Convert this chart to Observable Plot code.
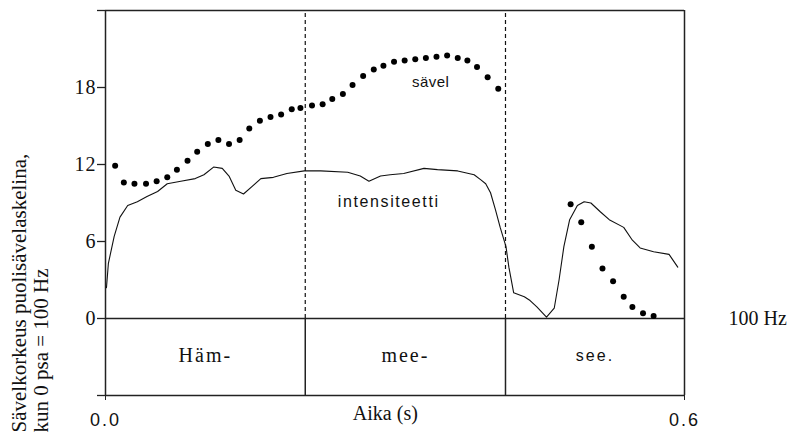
<!DOCTYPE html>
<html><head><meta charset="utf-8">
<script src="https://cdn.jsdelivr.net/npm/d3@7"></script>
<script src="https://cdn.jsdelivr.net/npm/@observablehq/plot@0.6"></script>
<style>
body{margin:0;background:#fff}
svg{display:block}
</style>
</head><body><div id="chart"></div>
<script>
// Pitch (sävel) dots: time (s) and semitones above 100 Hz
const pitchTime = [0.010,0.019,0.030,0.042,0.053,0.064,0.074,0.085,0.095,0.106,0.117,0.128,0.139,0.149,0.160,0.171,0.182,0.193,0.202,0.214,0.225,0.235,0.246,0.256,0.267,0.278,0.288,0.299,0.310,0.321,0.332,0.343,0.354,0.365,0.375,0.385,0.396,0.407,0.482,0.493,0.504,0.515,0.526,0.537,0.546,0.557,0.568];
const pitchValue = [11.9,10.6,10.5,10.5,10.7,11.0,11.6,12.3,13.0,13.6,13.9,13.6,13.9,14.8,15.4,15.7,15.9,16.3,16.4,16.6,16.7,17.1,17.5,18.2,18.9,19.4,19.7,20.0,20.1,20.2,20.3,20.4,20.5,20.3,20.1,19.6,18.8,17.9,8.9,7.5,5.6,3.9,2.9,1.7,0.9,0.4,0.2];
// Intensity (intensiteetti) curve
const intensityTime = [0.001,0.003,0.009,0.015,0.023,0.033,0.043,0.054,0.064,0.078,0.093,0.102,0.112,0.121,0.128,0.135,0.143,0.152,0.161,0.174,0.188,0.206,0.223,0.251,0.264,0.273,0.285,0.295,0.309,0.330,0.344,0.365,0.382,0.389,0.394,0.399,0.404,0.409,0.415,0.418,0.423,0.434,0.440,0.447,0.457,0.465,0.470,0.475,0.481,0.489,0.496,0.503,0.513,0.522,0.537,0.546,0.554,0.568,0.584,0.593];
const intensityValue = [2.4,4.3,6.4,7.9,8.8,9.1,9.5,9.9,10.5,10.7,10.9,11.2,11.8,11.7,11.1,10.0,9.7,10.3,10.9,11.0,11.3,11.5,11.5,11.4,11.1,10.7,11.1,11.2,11.3,11.7,11.6,11.5,11.2,10.8,10.5,9.8,8.5,7.1,5.6,4.0,2.0,1.7,1.4,0.9,0.1,0.8,3.0,5.6,7.7,8.8,9.1,9.0,8.3,7.7,7.1,6.1,5.5,5.2,5.0,4.0];
// Syllables and their boundaries (s)
const syllables = ["Häm-","mee-","see."];
const boundaries = [0.207, 0.4145];
const yTickValues = [0, 6, 12, 18];
const xTickValues = [0, 0.6];
const yDomain = [-6, 24];
const xDomain = [0, 0.6];

const pitch = pitchTime.map((t, i) => ({t, v: pitchValue[i]}));
const intensity = intensityTime.map((t, i) => ({t, v: intensityValue[i]}));
const edges = [xDomain[0], ...boundaries, xDomain[1]];
const sylData = syllables.map((s, i) => ({s, t: (edges[i] + edges[i + 1]) / 2}));
const frameTicks = [yDomain[0], ...yTickValues, yDomain[1]];

const chart = Plot.plot({
  width: 792, height: 434,
  marginLeft: 105, marginRight: 108, marginTop: 10, marginBottom: 39,
  style: {fontFamily: "Liberation Serif", background: "#fff", color: "#111", overflow: "visible"},
  x: {domain: xDomain},
  y: {domain: yDomain},
  marks: [
    Plot.ruleY([yDomain[0], 0, yDomain[1]], {stroke: "#222", strokeWidth: 1.5}),
    Plot.ruleX(xDomain, {stroke: "#222", strokeWidth: 1.5}),
    Plot.ruleX(boundaries, {y1: 0, y2: yDomain[1], stroke: "#111", strokeWidth: 1.2, strokeDasharray: "4,3"}),
    Plot.ruleX(boundaries, {y1: yDomain[0], y2: 0, stroke: "#222", strokeWidth: 1.5}),
    Plot.axisY(frameTicks, {tickSize: 8, tickPadding: 1, stroke: "#222", strokeWidth: 1.3,
      tickFormat: d => (d === yDomain[0] || d === yDomain[1]) ? "" : String(d),
      fontSize: 20, fontFamily: "Liberation Serif", label: null}),
    Plot.axisX(xTickValues, {tickSize: 5, tickPadding: 13, stroke: "#222",
      tickFormat: d3.format(".1f"), fontSize: 18, fontFamily: "Liberation Sans", label: null}),
    Plot.line(intensity, {x: "t", y: "v", stroke: "#111", strokeWidth: 1.1}),
    Plot.dot(pitch, {x: "t", y: "v", r: 3, fill: "#000", stroke: "none"}),
    Plot.text(["sävel"], {x: 0.337, y: 18.4, fontSize: 15, fontFamily: "Liberation Sans", fill: "#111"}),
    Plot.text(["intensiteetti"], {x: 0.2935, y: 9.1, fontSize: 16, fontFamily: "Liberation Sans", fill: "#111"}),
    Plot.text(sylData.slice(0, 2), {x: "t", y: -2.9, text: "s", fontSize: 20, fontFamily: "Liberation Serif", fill: "#111"}),
    Plot.text(sylData.slice(2), {x: "t", y: -2.9, text: "s", fontSize: 16, fontFamily: "Liberation Sans", fill: "#111"}),
    Plot.text(["100 Hz"], {x: xDomain[1], y: 0, dx: 44, textAnchor: "start", fontSize: 20, fontFamily: "Liberation Serif", fill: "#111"}),
    Plot.text(["Aika (s)"], {x: 0.29, y: yDomain[0], dy: 18, fontSize: 20, fontFamily: "Liberation Serif", fill: "#111"}),
    Plot.text(["Sävelkorkeus puolisävelaskelina,\nkun 0 psa = 100 Hz"], {frameAnchor: "bottom-left", dx: -76, dy: 37,
      rotate: -90, textAnchor: "start", lineAnchor: "middle", lineHeight: 1.05, fontSize: 21, fontFamily: "Liberation Serif", fill: "#111"})
  ]
});
// letter spacing to mimic the original bitmap fonts
const spacing = {"Häm-": "2px", "mee-": "2px", "see.": "2px", "intensiteetti": "1.6px", "sävel": "0.5px",
  "0.0": "2px", "0.6": "2px", "0": "1px", "6": "1px", "12": "1px", "18": "1px"};
d3.select(chart).selectAll("text").each(function() {
  const s = spacing[this.textContent];
  if (s) this.setAttribute("letter-spacing", s);
});
document.getElementById("chart").appendChild(chart);
</script>
</body></html>
